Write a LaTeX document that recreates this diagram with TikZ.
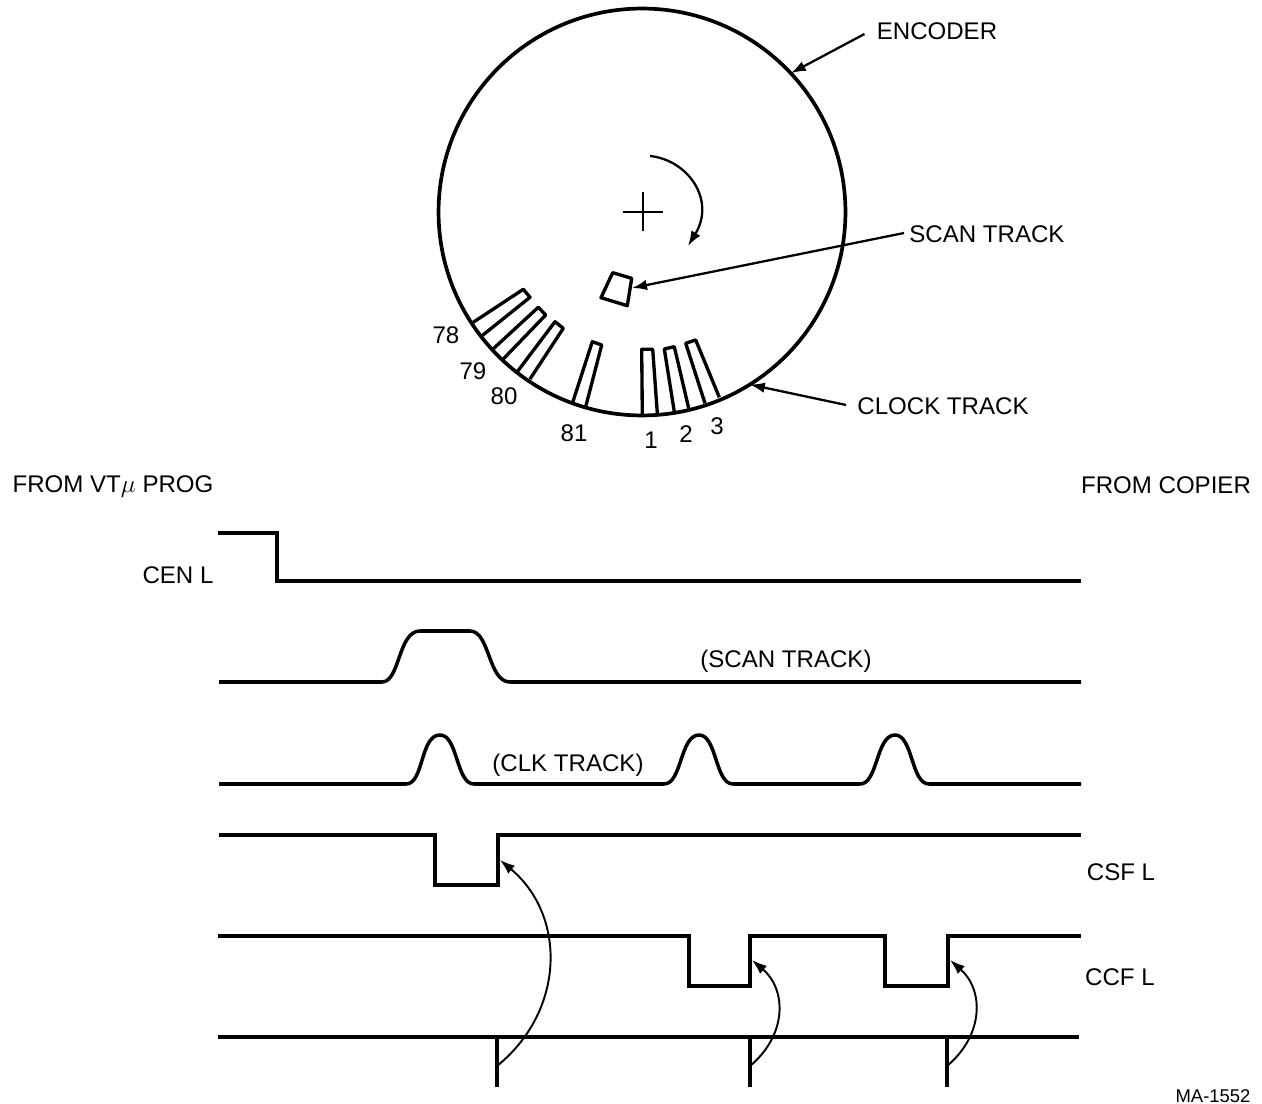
\documentclass[tikz,border=0pt]{standalone}
\usepackage{fontspec}
\setmainfont{Liberation Sans}
\usetikzlibrary{arrows.meta}
\tikzset{
  label/.style={inner sep=0pt, font=\fontsize{13.7}{16}\selectfont},
  disc/.style={draw, circle, line width=2.1pt, inner sep=0pt, outer sep=0pt, minimum size=8.14cm},
  signal/.style={line width=2pt, line join=miter},
  slot/.style={line width=1.9pt, line join=round},
  pointer/.style={-{Latex[length=3mm,width=2.1mm]}, line width=1.3pt},
  pulse/.style={-{Latex[length=3mm,width=2.1mm]}, line width=1.1pt}
}
\begin{document}
\begin{tikzpicture}[x=0.02cm, y=-0.02cm]
  \useasboundingbox (0,0) rectangle (1262,1104);

  % encoder
  \node[disc] (encoder) at (642,212) {};
  \draw[line width=1.7pt] (623,212) -- (663,212) (643,192) -- (643,231);
  \draw[pointer] (650,156) .. controls (688,160) and (716,200) .. (688,246);

  \foreach \ax/\ay/\bx/\by/\cx/\cy/\dx/\dy in {
    471.7/323.3/523.3/289.3/530/297.3/481.7/336,
    492.7/349.3/538.3/307.3/545.7/315/503.3/359,
    517.3/371.7/555/321.7/563.3/328.3/530/379,
    572.7/402.3/592.3/341.7/601.7/345/585.7/406.7,
    642.3/414.3/641.7/349.3/652.7/349.3/657.3/413.3,
    674.3/411.7/664.3/349/674.3/346.7/688.7/408.3,
    705/403.3/685.7/343.3/695.7/340/719.3/397.3}
    \draw[slot] (\ax,\ay) -- (\bx,\by) -- (\cx,\cy) -- (\dx,\dy);
  \draw[slot] (612.7,272.7) -- (631.7,278.3) -- (627.3,305.7) -- (601,297.7) -- cycle;
  \coordinate (scanslot) at (632,288);

  \foreach \x/\y/\t in {446/335/78, 473/371/79, 504/396/80, 574/433/81, 651/440/1, 686/434/2, 717/426/3}
    \node[label] at (\x,\y) {\t};

  \node[label] (encoderlabel) at (937,31) {ENCODER};
  \node[label] (scanlabel) at (987,234) {SCAN TRACK};
  \node[label] (clocklabel) at (943,406) {CLOCK TRACK};
  \draw[pointer] (encoderlabel.west) ++(-12,3) -- (encoder.43);
  \draw[pointer] (scanlabel.west) ++(-5,-1) -- (scanslot);
  \draw[pointer] (clocklabel.west) ++(-11,-1) -- (encoder.-58);

  % signals
  \node[label] (fromvt) at (113,487) {FROM VT$\mu$ PROG};
  \node[label] (fromcopier) at (1166,485) {FROM COPIER};
  \node[label] (cen) at (178,575) {CEN L};
  \node[label] (scantrack) at (786,661) {(SCAN TRACK)};
  \node[label] (clktrack) at (568,765) {(CLK TRACK)};
  \node[label] (csf) at (1121,872) {CSF L};
  \node[label] (ccf) at (1120,977) {CCF L};
  \node[label, font=\fontsize{10.5}{12}\selectfont] (partno) at (1213,1096) {MA-1552};

  \draw[signal] (218,533) -- (277,533) -- (277,581) -- (1081,581);
  \draw[signal] (219,682) -- (382,682) .. controls (400,682) and (398,631) .. (420,631)
    -- (470,631) .. controls (490,631) and (488,682) .. (510,682) -- (1081,682);
  \draw[signal] (219,784) -- (406,784)
    .. controls (424,784) and (420,735) .. (440,735) .. controls (458,735) and (456,784) .. (474,784) -- (664,784)
    .. controls (682,784) and (680,735) .. (699,735) .. controls (717,735) and (715,784) .. (733,784) -- (860,784)
    .. controls (878,784) and (876,735) .. (895,735) .. controls (913,735) and (911,784) .. (929,784) -- (1081,784);
  \draw[signal] (219,835) -- (435,835) -- (435,885) -- (498,885) -- (498,835) -- (1081,835);
  \draw[signal] (218,936) -- (689,936) -- (689,986) -- (750,986) -- (750,936) -- (885,936)
    -- (885,986) -- (948,986) -- (948,936) -- (1081,936);
  \draw[signal] (218,1037) -- (1079,1037);

  % strobes
  \foreach \n/\x/\tx/\ty/\bow/\top/\low in {a/497/500/860/566/915/1010, b/750/752/960/787/990/1035, c/947/950/960/984/990/1035} {
    \draw[signal] (\x,1037) -- (\x,1087);
    \coordinate (tick\n) at (\x,1066);
    \coordinate (edge\n) at (\tx,\ty);
    \draw[pulse] (tick\n) .. controls (\bow,\low) and (\bow,\top) .. (edge\n);
  }
\end{tikzpicture}
\end{document}
